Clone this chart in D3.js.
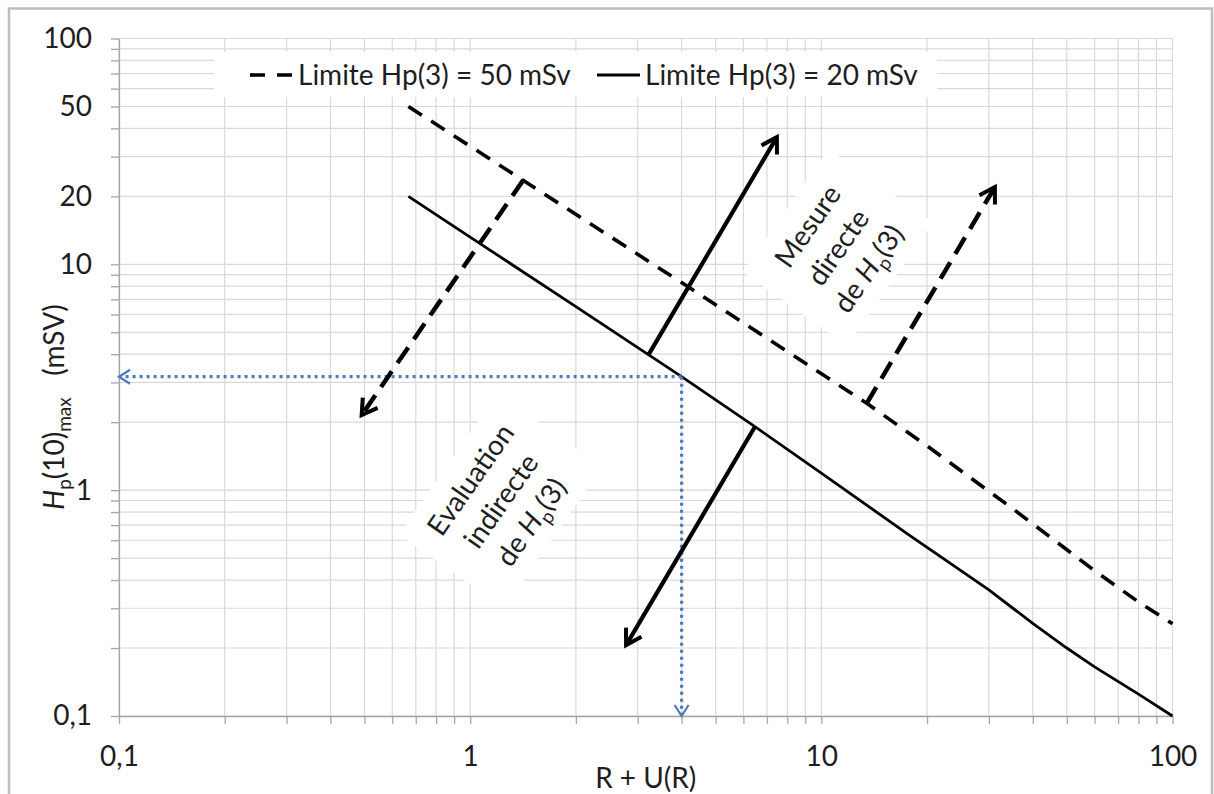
<!DOCTYPE html>
<html>
<head>
<meta charset="utf-8">
<script src="https://cdn.jsdelivr.net/npm/d3@7"></script>
<style>
  body { margin: 0; background: #fff; }
  svg text { font-family: Lato, "Open Sans", sans-serif; fill: #1e1e1e; font-size: 28px; }
</style>
</head>
<body>
<svg id="graph" width="1214" height="794"></svg>
<script>
// valeurs
const xTicks = [0.1, 1, 10, 100];
const xTickLabels = ['0,1', '1', '10', '100'];
const yTicks = [0.1, 1, 10, 20, 50, 100];
const yTickLabels = ['0,1', '1', '10', '20', '50', '100'];

// limite Hp(3) = 50 mSv (pointillés)
const limit50X = [0.667, 1.4, 4, 13.5, 20, 35, 60, 80, 100];
const limit50Y = [50, 23.8, 8.3, 2.42, 1.57, 0.83, 0.44, 0.32, 0.256];
// limite Hp(3) = 20 mSv (trait plein)
const limit20X = [0.667, 1, 2, 4, 6.5, 10, 17.5, 30, 40, 50, 60, 80, 100];
const limit20Y = [20, 13.2, 6.5, 3.18, 1.9, 1.19, 0.644, 0.362, 0.257, 0.2, 0.165, 0.125, 0.1];

const legendLabels = ['Limite Hp(3) = 50 mSv', 'Limite Hp(3) = 20 mSv'];

// flèches (coordonnées dans les unités du graphique)
const solidArrows = [
    [[3.215, 3.96], [7.47, 36.6]],
    [[6.47, 1.909], [2.78, 0.206]]
];
const dashedArrows = [
    [[1.416, 23.6], [0.491, 2.15]],
    [[13.46, 2.42], [31.2, 22.0]]
];
// lecture en bleu
const readPoint = [4, 3.18];

const svg = d3.select('#graph');

const x = d3.scaleLog().domain([0.1, 100]).range([119, 1172.5]);
const y = d3.scaleLog().domain([0.1, 100]).range([716, 38.5]);

// toutes les valeurs de la grille log (1..9 par décade)
const minor = [];
[0.1, 1, 10].forEach(dec => { for (let k = 1; k < 10; k++) minor.push(+(k * dec).toPrecision(3)); });
minor.push(100);

const findLabel = (vals, labels) => d => {
    const i = vals.findIndex(v => Math.abs(Math.log10(v) - Math.log10(d)) < 1e-6);
    return i >= 0 ? labels[i] : '';
};

// cadre extérieur
svg.append('rect')
   .attr('x', 9).attr('y', 8.5)
   .attr('width', 1203).attr('height', 800)
   .attr('fill', 'none')
   .attr('stroke', '#bdbdbd')
   .attr('stroke-width', 2.5);

// grille
const grid = svg.append('g').attr('stroke', '#d9d9d9').attr('stroke-width', 1.2);
grid.selectAll('.vg').data(minor).join('line')
    .attr('class', 'vg')
    .attr('x1', d => x(d)).attr('x2', d => x(d))
    .attr('y1', y(0.1)).attr('y2', y(100));
grid.selectAll('.hg').data(minor).join('line')
    .attr('class', 'hg')
    .attr('y1', d => y(d)).attr('y2', d => y(d))
    .attr('x1', x(0.1)).attr('x2', x(100));

// fond blanc de la légende
svg.append('rect')
   .attr('x', 214).attr('y', 52)
   .attr('width', 723).attr('height', 45)
   .attr('fill', '#fff');

// zones de texte tournées
const blocks = [
    { at: [11.15, 11.9], w: 150, h: 128,
      lines: [[{ t: 'Mesure' }], [{ t: 'directe' }], [{ t: 'de ' }, { t: 'H', it: true }, { t: 'p', sub: true }, { t: '(3)' }]] },
    { at: [1.222, 0.898], w: 172, h: 128,
      lines: [[{ t: 'Evaluation' }], [{ t: 'indirecte' }], [{ t: 'de ' }, { t: 'H', it: true }, { t: 'p', sub: true }, { t: '(3)' }]] }
];
const blockG = svg.selectAll('.block').data(blocks).join('g')
    .attr('class', 'block')
    .attr('transform', d => `translate(${x(d.at[0])},${y(d.at[1])}) rotate(-55)`);
blockG.append('rect')
    .attr('x', d => -d.w / 2).attr('y', d => -d.h / 2)
    .attr('width', d => d.w).attr('height', d => d.h)
    .attr('fill', '#fff');

// axes
const yAxis = d3.axisLeft(y).tickValues(minor).tickSize(8).tickSizeOuter(0)
    .tickPadding(19).tickFormat(findLabel(yTicks, yTickLabels));
const gy = svg.append('g').attr('transform', `translate(${x(0.1)},0)`).call(yAxis);

const xAxis = d3.axisBottom(x).tickValues(minor).tickSize(8).tickSizeOuter(0)
    .tickPadding(22).tickFormat(findLabel(xTicks, xTickLabels));
const gx = svg.append('g').attr('transform', `translate(0,${y(0.1)})`).call(xAxis);

[gx, gy].forEach(g => {
    g.attr('font-size', null).attr('font-family', null);
    g.select('.domain').attr('stroke', '#a6a6a6').attr('stroke-width', 1.3);
    g.selectAll('.tick line').attr('stroke', '#a6a6a6').attr('stroke-width', 1.3);
});

// marqueurs de flèche (pointe ouverte)
const defs = svg.append('defs');
const addMarker = (id, color, len, half, sw) => {
    defs.append('marker')
        .attr('id', id)
        .attr('viewBox', '-30 -30 40 60')
        .attr('markerUnits', 'userSpaceOnUse')
        .attr('markerWidth', 40).attr('markerHeight', 60)
        .attr('refX', 0).attr('refY', 0)
        .attr('orient', 'auto')
        .append('path')
        .attr('d', `M${-len},${-half} L0,0 L${-len},${half}`)
        .attr('fill', 'none')
        .attr('stroke', color)
        .attr('stroke-width', sw)
        .attr('stroke-linejoin', 'miter');
};
addMarker('arrowBlack', '#000', 15, 9, 4);
addMarker('arrowBlue', '#4a7dbb', 11, 7, 2.2);

const line = d3.line().x(d => x(d[0])).y(d => y(d[1]));

// courbes
svg.append('path')
   .datum(d3.zip(limit50X, limit50Y))
   .attr('d', line)
   .attr('fill', 'none')
   .attr('stroke', '#000')
   .attr('stroke-width', 3.6)
   .attr('stroke-dasharray', '16,11');

svg.append('path')
   .datum(d3.zip(limit20X, limit20Y))
   .attr('d', line)
   .attr('fill', 'none')
   .attr('stroke', '#000')
   .attr('stroke-width', 2.8);

// lecture en bleu pointillé
const blue = [
    [readPoint, [0.1, readPoint[1]]],
    [readPoint, [readPoint[0], 0.1]]
];
svg.selectAll('.blue').data(blue).join('path')
   .attr('class', 'blue')
   .attr('d', line)
   .attr('fill', 'none')
   .attr('stroke', '#4a7dbb')
   .attr('stroke-width', 3.3)
   .attr('stroke-dasharray', '3,4')
   .attr('marker-end', 'url(#arrowBlue)');

// flèches noires
svg.selectAll('.sArrow').data(solidArrows).join('path')
   .attr('class', 'sArrow')
   .attr('d', line)
   .attr('fill', 'none')
   .attr('stroke', '#000')
   .attr('stroke-width', 4.2)
   .attr('marker-end', 'url(#arrowBlack)');

svg.selectAll('.dArrow').data(dashedArrows).join('path')
   .attr('class', 'dArrow')
   .attr('d', line)
   .attr('fill', 'none')
   .attr('stroke', '#000')
   .attr('stroke-width', 4.5)
   .attr('stroke-dasharray', '19,10')
   .attr('marker-end', 'url(#arrowBlack)');

// légende
const legendItems = [
    { x0: 250, dash: '15,12', w: 3.6, label: legendLabels[0] },
    { x0: 597, dash: null, w: 2.8, label: legendLabels[1] }
];
const lg = svg.selectAll('.legend').data(legendItems).join('g').attr('class', 'legend');
lg.append('line')
  .attr('x1', d => d.x0).attr('x2', d => d.x0 + 43)
  .attr('y1', 75).attr('y2', 75)
  .attr('stroke', '#000')
  .attr('stroke-width', d => d.w)
  .attr('stroke-dasharray', d => d.dash);
lg.append('text')
  .attr('x', d => d.x0 + 48)
  .attr('y', 85)
  .text(d => d.label);

// textes des zones tournées
blockG.each(function (d) {
    const g = d3.select(this);
    d.lines.forEach((segs, i) => {
        const t = g.append('text')
            .attr('text-anchor', 'middle')
            .attr('x', 0)
            .attr('y', (i - 1) * 37 + 10);
        let shifted = false;
        segs.forEach(s => {
            const ts = t.append('tspan').text(s.t);
            if (s.it) ts.attr('font-style', 'italic');
            if (s.sub) { ts.style('font-size', '19px').attr('dy', 7); shifted = true; }
            else if (shifted) { ts.attr('dy', -7); shifted = false; }
        });
    });
});

// titres des axes
svg.append('text')
   .attr('x', (x(0.1) + x(100)) / 2)
   .attr('y', 788)
   .attr('text-anchor', 'middle')
   .text('R + U(R)');

const yt = svg.append('text')
   .attr('transform', 'translate(64,407) rotate(-90)')
   .attr('text-anchor', 'middle')
   .style('white-space', 'pre');
yt.append('tspan').attr('font-style', 'italic').text('H');
yt.append('tspan').style('font-size', '19px').attr('dy', 7).text('p');
yt.append('tspan').attr('dy', -7).text('(10)');
yt.append('tspan').style('font-size', '19px').attr('dy', 7).text('max');
yt.append('tspan').attr('dy', -7).text('   (mSV)');
</script>
</body>
</html>
